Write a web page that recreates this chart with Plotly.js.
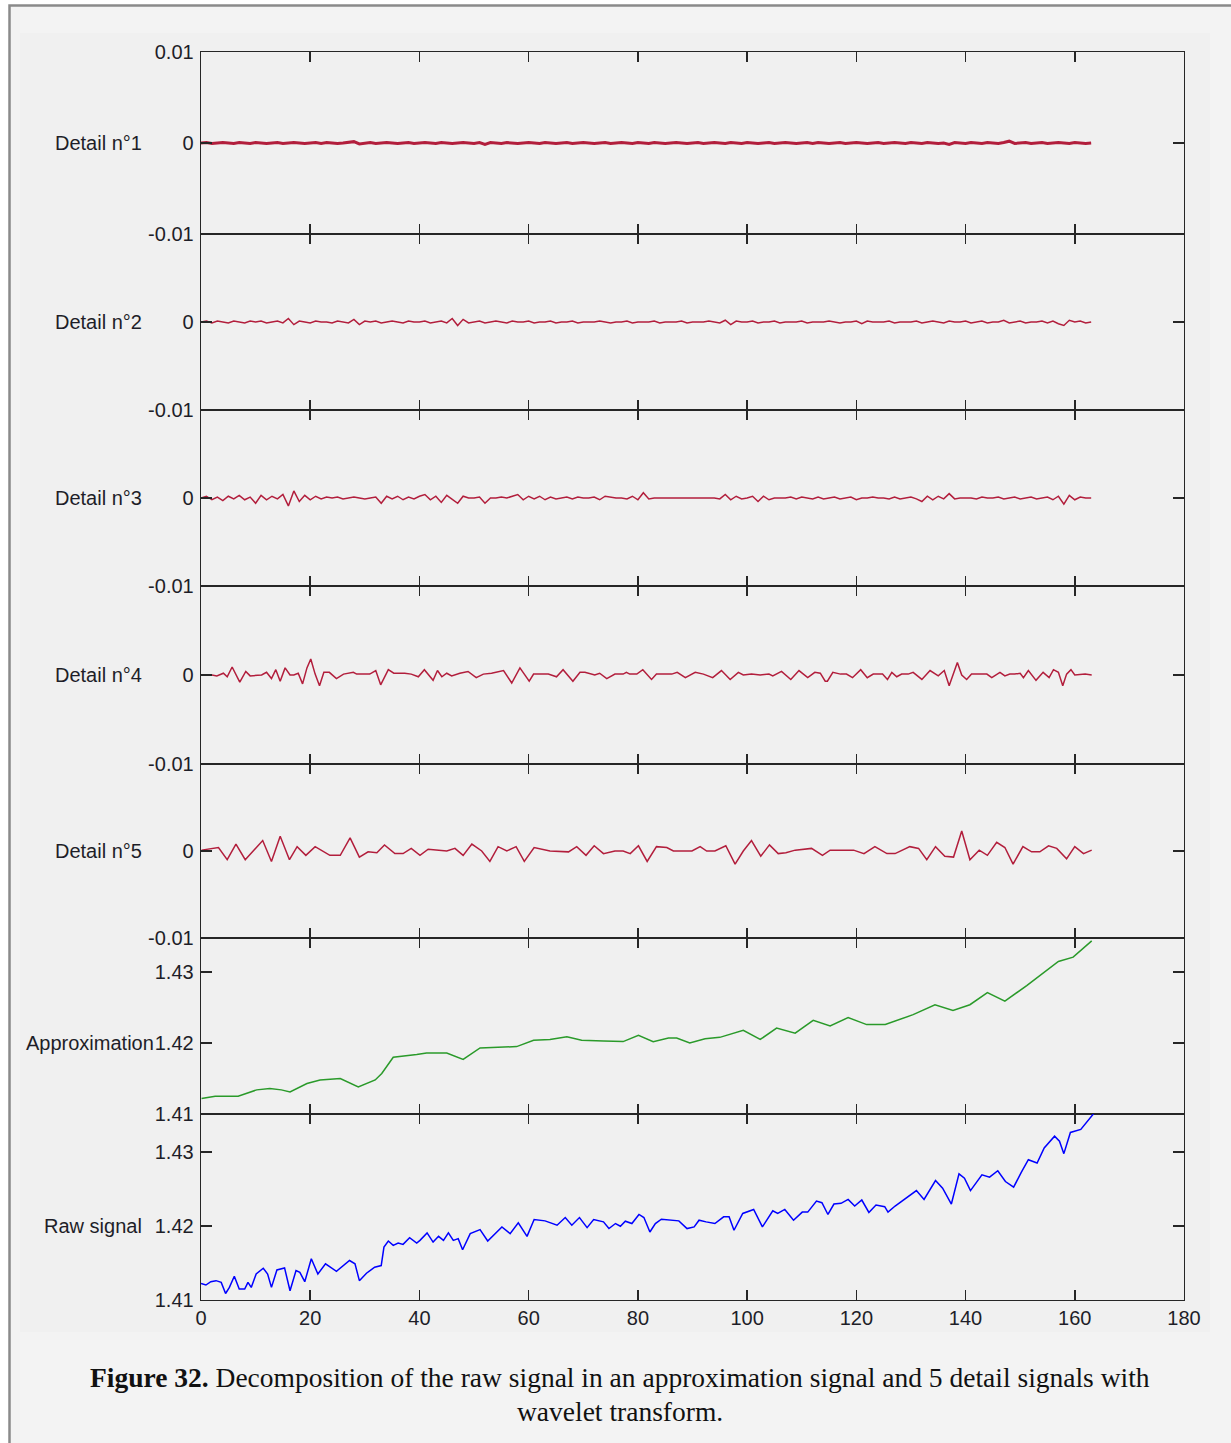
<!DOCTYPE html>
<html>
<head>
<meta charset="utf-8">
<script src="https://cdn.plot.ly/plotly-3.0.1.min.js"></script>
<style>
html,body{margin:0;padding:0;background:#ffffff;}
#chart{width:1231px;height:1443px;}
</style>
</head>
<body>
<div id="chart"></div>
<script>
// ---------- data ----------
var panelLabels = ["Detail n°1", "Detail n°2", "Detail n°3", "Detail n°4", "Detail n°5", "Approximation", "Raw signal"];
var xTickVals = [0, 20, 40, 60, 80, 100, 120, 140, 160, 180];
var detailTickVals = [-0.01, 0, 0.01];
var detailTickTextTop = ["-0.01", "0", "0.01"];
var detailTickText = ["-0.01", "0", ""];
var levelTickVals = [1.41, 1.42, 1.43];
var levelTickText = ["1.41", "1.42", "1.43"];
var captionBold = "Figure 32.";
var captionText = "Decomposition of the raw signal in an approximation signal and 5 detail signals with";
var captionText2 = "wavelet transform.";

var xFine = [0,1,2,3,4,5,6,7,8,9,10,11,12,13,14,15,16,17,18,19,20,21,22,23,24,25,26,27,28,29,30,31,32,33,34,35,36,37,38,39,40,41,42,43,44,45,46,47,48,49,50,51,52,53,54,55,56,57,58,59,60,61,62,63,64,65,66,67,68,69,70,71,72,73,74,75,76,77,78,79,80,81,82,83,84,85,86,87,88,89,90,91,92,93,94,95,96,97,98,99,100,101,102,103,104,105,106,107,108,109,110,111,112,113,114,115,116,117,118,119,120,121,122,123,124,125,126,127,128,129,130,131,132,133,134,135,136,137,138,139,140,141,142,143,144,145,146,147,148,149,150,151,152,153,154,155,156,157,158,159,160,161,162,163];

var detail1 = [0,0.00005,-0.00005,0,0.00005,0,-0.00005,0.00005,0,-0.00005,
0.00005,0,-0.00005,0,0.00005,-0.00005,0,0.00005,0,-0.00005,
0,0.00005,-0.00005,0.00005,0,-0.00005,0,0.00005,0.00015,-0.0001,
0,0.00005,-0.00005,0,0.00005,0,-0.00005,0,0.00005,-0.00005,
0,0.00005,0,-0.00005,0.00005,0,-0.00005,0,0.00005,0,
-0.00005,0.00005,-0.00015,0.00005,0,-0.00005,0.00005,0,-0.00005,0,
0.00005,0,-0.00005,0.00005,0,-0.00005,0,0.00005,-0.00005,0,
0.00005,0,-0.00005,0,0.00005,-0.00005,0,0.00005,0,-0.00005,
0.00005,0,-0.00005,0.00005,0,-0.00005,0,0.00005,0,-0.00005,
0,0.00005,-0.00005,0,0.00005,0,-0.00005,0.00005,0,-0.00005,
0.00005,0,-0.00005,0,0.00005,-0.00005,0,0.00005,0,-0.00005,
0,0.00005,-0.00005,0.00005,0,-0.00005,0,0.00005,-0.00005,0,
0.00005,0,-0.00005,0,0.00005,-0.00005,0,0.00005,0,-0.00005,
0.00005,0,-0.00005,0.00005,0,-0.00005,0,-0.00015,0.00005,0,
-0.00005,0.00005,0,-0.00005,0.00005,0,-0.00005,0.00005,0.0002,-0.00005,
0,0.00005,-0.00005,0,0.00005,-0.00005,0,0.00005,0,-0.00005,
0.00005,0,-0.00005,0];

var detail2 = [0,0.0001,-0.0001,0.0001,0,-0.0001,0.0001,0,-0.0001,0.0001,
0,0.0001,-0.0001,0,0.0001,-0.0001,0.0004,-0.0003,0.0001,0,
-0.0001,0.0001,0,0,-0.0001,0.0001,0,-0.0001,0.0003,-0.0003,
0.0001,0,0.0001,-0.0001,0,0.0001,0,-0.0001,0.0001,0,
0,0.0001,-0.0001,0,0.0001,-0.0001,0.0004,-0.0004,0.0003,-0.0001,
0,0.0001,-0.0001,0,0.0001,0,-0.0001,0.0001,0,0,
0.0001,-0.0001,0,0,0.0001,-0.0001,0,0,0.0001,-0.0001,
0,0,0,0.0001,0,-0.0001,0,0,0.0001,-0.0001,
0,0,0,0.0001,-0.0001,0,0,0,0.0001,-0.0001,
0,0,0,0.0001,0,-0.0001,0.0002,-0.0003,0.0001,0,
0,0.0001,-0.0001,0,0,0.0001,-0.0001,0,0,0,
0.0001,-0.0001,0,0,0,0.0001,0,-0.0001,0,0,
0.0001,-0.0002,0.0001,0,0,0,0.0001,-0.0001,0,0,
0,0.0001,-0.0001,0,0.0001,0,-0.0001,0.0001,0,0,
0.0001,-0.0001,0,0.0001,-0.0001,0,0,0.0002,-0.0001,0,
0.0001,-0.0001,0,0,0.0001,-0.0001,0.0001,-0.0002,-0.0004,0.0002,
0,0.0001,-0.0001,0];

var detail3 = [0,0.0002,-0.0002,0.0001,-0.0003,0.0002,-0.0001,0.0003,-0.0002,0.0001,
-0.0006,0.0003,-0.0002,0.0002,-0.0001,0.0004,-0.0009,0.0008,-0.0004,0.0003,
-0.0002,0.0002,-0.0001,0.0001,0,0.0001,-0.0001,0,0.0001,0,
-0.0001,0,0.0001,-0.0006,0.0002,-0.0001,0.0002,-0.0002,0.0001,-0.0001,
0.0002,0.0004,-0.0002,0.0002,-0.0005,0.0003,-0.0001,-0.0006,0.0002,0,
0,0.0001,-0.0006,0,0,0.0001,0,0.0002,0.0004,-0.0002,
0.0002,-0.0001,0.0002,-0.0002,0.0001,-0.0001,0,0.0001,-0.0001,0.0001,
0,0,0.0001,-0.0002,0.0002,0.0001,0,0,-0.0001,0.0002,
-0.0002,0.0006,-0.0001,0,0,0,0,0,0,0,
0,0,0,0,0,-0.0001,0.0004,-0.0002,0.0002,-0.0001,
0,0.0002,-0.0004,0.0002,-0.0002,0,0,0,0.0001,-0.0001,
0.0001,0,-0.0001,0.0001,-0.0001,0,0.0001,-0.0001,0,0.0001,
-0.0002,0,0,0.0001,0,0,-0.0001,0.0001,-0.0001,0,
0.0001,-0.0001,-0.0004,0.0002,-0.0002,0.0002,-0.0001,0.0005,-0.0001,0,
0,0,-0.0001,0.0001,0,0,0.0001,-0.0001,0,0.0001,
-0.0001,0,0.0001,-0.0001,0,0.0001,-0.0002,0.0002,-0.0007,0.0003,
-0.0002,0.0001,0,0];

var d4X = [0,2.0,2.9,4.1,4.8,5.7,7.1,8.2,9.0,11.1,12.0,12.9,13.7,14.5,15.4,16.3,17.0,17.8,18.6,19.4,20.1,20.9,21.7,22.5,23.5,24.8,26.1,27.9,28.5,30.9,32.0,32.9,34.3,35.3,37.3,38.5,39.8,40.9,42.5,43.3,44.1,45.0,45.9,47.4,48.9,50.4,51.7,53.2,55.4,56.9,58.4,60.1,60.9,63.6,65.1,66.3,68.1,69.4,70.3,72.1,73.0,74.3,75.8,77.3,77.9,78.5,79.8,80.9,82.5,83.4,86.2,87.2,88.7,90.5,92.0,93.7,95.3,96.9,98.4,99.3,100.8,102.4,104.0,104.7,106.3,108.0,109.5,111.1,112.4,113.4,114.3,114.7,115.7,117.1,118.2,119.3,120.8,122.0,123.1,124.8,125.7,126.5,127.4,128.3,129.5,130.4,132.0,133.5,135.0,136.1,137.0,137.9,138.5,139.3,140.2,141.1,142.7,143.9,144.8,146.3,147.2,148.1,149.0,150.0,150.6,151.5,152.9,154.2,155.3,156.1,157.0,157.8,158.5,159.3,160.0,161.9,163.1];
var d4Y = [0,0,-0.0001,0.0002,-0.0002,0.0009,-0.0008,0.0004,-0.0001,0,0.0003,-0.0004,0.0006,-0.0007,0.0008,0,0,0.0002,-0.001,0.0008,0.0018,0.0001,-0.0012,0.0003,0.0003,-0.0004,0.0001,0.0003,0.0001,0.0001,0.0005,-0.0011,0.0006,0.0002,0.0002,0.0001,-0.0002,0.0006,-0.0006,0.0005,-0.0002,0.0002,-0.0001,0.0002,0.0004,-0.0003,0.0001,0.0002,0.0005,-0.0009,0.0008,-0.0007,0.0001,0.0001,-0.0002,0.0006,-0.0007,0.0003,0.0003,0,0.0002,-0.0004,0.0001,0.0001,0.0003,0.0001,0.0001,0.0006,-0.0005,0.0001,0.0001,0.0003,-0.0003,0.0003,0.0001,-0.0003,0.0005,-0.0005,0.0003,0,0.0001,0,0.0001,-0.0001,0.0004,-0.0005,0.0005,-0.0003,0.0003,0.0002,-0.0007,-0.0007,0.0003,0.0001,0.0001,-0.0003,0.0006,-0.0003,0.0001,0.0001,-0.0005,0.0003,-0.0002,0.0001,0.0001,0.0003,-0.0005,0.0005,-0.0001,0.0005,-0.0012,0.0005,0.0014,0,-0.0005,0.0001,0.0001,0.0001,-0.0003,0.0003,-0.0001,0.0001,0.0001,0.0002,-0.0003,0.0005,-0.0006,0.0003,-0.0003,0.0006,0.0003,-0.0012,0.0001,0.0006,0,0.0001,0];

var d5X = [0.1,3.2,4.8,6.4,8.1,11.3,12.9,14.5,16.2,17.6,19.2,20.9,23.6,25.5,27.3,29.0,30.6,32.2,33.6,35.5,37.0,38.5,40.1,41.6,45.0,46.5,48.0,49.6,51.4,52.9,54.4,56.0,57.7,59.2,61.0,63.9,67.3,68.8,70.5,72.0,73.7,75.8,77.3,78.6,80.1,81.7,83.4,85.3,86.5,89.9,91.4,92.6,94.1,96.1,97.8,99.3,100.8,102.5,104.1,105.7,107.1,108.8,111.8,113.8,115.2,117.6,119.5,121.4,123.4,125.6,127.1,129.8,131.4,132.9,134.5,136.2,137.8,139.3,140.8,142.5,144.0,145.7,147.2,148.7,150.5,152.1,153.6,155.2,156.7,158.5,160.0,161.6,163.1];
var d5Y = [0.0001,0.0004,-0.001,0.0008,-0.001,0.0012,-0.0012,0.0017,-0.001,0.0005,-0.0005,0.0005,-0.0005,-0.0005,0.0015,-0.0007,-0.0001,-0.0002,0.0007,-0.0003,-0.0003,0.0003,-0.0005,0.0002,0,0.0003,-0.0005,0.0008,0,-0.0012,0.0005,0,0.0005,-0.0012,0.0004,0,-0.0001,0.0005,-0.0005,0.0006,-0.0003,0,0,-0.0003,0.0006,-0.0012,0.0005,0.0004,0,0,0.0005,0,0,0.0006,-0.0015,0,0.0012,-0.0006,0.0007,-0.0003,-0.0002,0.0001,0.0003,-0.0005,0.0001,0.0001,0.0001,-0.0003,0.0005,-0.0003,-0.0003,0.0005,0.0003,-0.001,0.0005,-0.0006,-0.0007,0.0023,-0.001,0.0001,-0.0005,0.001,0.0004,-0.0015,0.0005,-0.0001,-0.0001,0.0006,0.0003,-0.0009,0.0005,-0.0003,0.0001];

var approxX = [0.1,2.6,6.8,10.2,12.6,14.7,16.3,19.4,21.8,25.5,28.8,31.9,33.1,35.2,39.5,41.3,45.0,48.0,51.1,57.8,60.9,63.9,67.0,69.7,73.7,77.3,80.1,82.8,85.6,87.1,89.5,92.3,95.0,99.3,102.4,105.4,108.8,112.1,115.2,118.5,121.9,125.3,130.4,134.4,137.7,140.8,144.0,147.2,151.2,154.9,157.0,159.7,163.1];
var approxY = [1.4122,1.4125,1.4125,1.4134,1.4136,1.4134,1.4131,1.4143,1.4148,1.4150,1.4138,1.4148,1.4157,1.4180,1.4184,1.4186,1.4186,1.4177,1.4193,1.4195,1.4204,1.4205,1.4209,1.4204,1.4203,1.4202,1.4211,1.4202,1.4207,1.4207,1.4200,1.4206,1.4208,1.4218,1.4205,1.4221,1.4214,1.4232,1.4224,1.4236,1.4226,1.4226,1.4240,1.4254,1.4246,1.4254,1.4271,1.4259,1.4281,1.4302,1.4315,1.4321,1.4344];

var rawX = [0,0.9,1.8,2.75,3.7,4.5,5.2,6.1,7.0,8.0,8.6,9.2,10.1,11.4,12.2,12.9,13.9,15.3,16.3,17.4,18.1,19.0,20.2,21.4,22.8,24.8,27.2,28.2,29.0,30.3,31.8,33.0,33.5,34.3,35.2,36.1,37.0,38.2,39.5,40.1,41.4,42.5,43.5,44.4,45.3,46.2,47.1,47.9,49.3,51.1,52.5,53.5,55.1,56.6,58.1,59.7,61.0,63.0,65.2,66.7,67.9,69.3,70.7,71.9,73.7,74.7,75.9,76.8,77.7,78.9,80.2,81.1,82.2,83.2,84.3,87.5,89.0,90.3,91.2,92.5,94.1,95.7,96.7,97.6,99.2,101.2,102.8,104.7,105.6,106.9,108.5,110.1,111.1,112.7,113.7,114.8,115.9,117.2,118.5,119.7,121.0,122.3,123.6,125.2,125.8,127.1,128.7,131.0,132.4,133.5,134.5,135.8,137.4,138.8,139.8,140.9,143.0,144.4,145.9,147.3,148.8,150.2,151.5,153.1,154.4,156.3,157.2,158.0,159.2,161.1,163.5];
var rawY = [1.41224,1.41202,1.41247,1.41261,1.41238,1.41088,1.4117,1.4132,1.41147,1.41147,1.41238,1.4117,1.41351,1.41429,1.41351,1.4117,1.41406,1.41433,1.41125,1.41397,1.41374,1.41247,1.41556,1.41351,1.41488,1.41388,1.41533,1.41488,1.41261,1.41361,1.41442,1.41465,1.41714,1.41796,1.41737,1.41769,1.41751,1.41841,1.41769,1.41805,1.41905,1.41782,1.41859,1.41805,1.41905,1.41805,1.41828,1.41678,1.41896,1.4195,1.41796,1.41873,1.41986,1.41896,1.42041,1.41859,1.42086,1.42068,1.42009,1.42113,1.42009,1.42113,1.41977,1.42086,1.42054,1.41964,1.42032,1.41995,1.42063,1.42032,1.42154,1.42113,1.41918,1.42032,1.42091,1.42068,1.41964,1.41986,1.42077,1.42054,1.42032,1.42122,1.42122,1.41941,1.42168,1.42222,1.41986,1.42204,1.42168,1.42222,1.42077,1.42186,1.42186,1.42336,1.42313,1.42154,1.42295,1.42304,1.42358,1.42268,1.42349,1.42181,1.42281,1.42259,1.42186,1.42268,1.42358,1.42476,1.42358,1.42485,1.42612,1.42508,1.42295,1.42703,1.42644,1.42476,1.42689,1.42658,1.42744,1.42599,1.42522,1.42721,1.42893,1.42848,1.43052,1.43211,1.43143,1.42975,1.43261,1.43302,1.43519];

// ---------- layout helpers ----------
var W = 1231, H = 1443;
var L = 201, R = 1184, T = 52, B = 1300;
var bounds = [52, 234, 410, 586, 764, 938, 1114, 1300];
function fy(py){ return (B - py) / (B - T); }
function fx(px){ return (px - L) / (R - L); }

var detailColor = '#b21e3c';
var axisColor = '#262626';
var tickFont = {family: 'Liberation Sans, Arial, sans-serif', size: 20, color: '#1e1e28'};

var seriesX = [xFine, xFine, xFine, d4X, d5X, approxX, rawX];
var seriesY = [detail1, detail2, detail3, d4Y, d5Y, approxY, rawY];
var colors = [detailColor, detailColor, detailColor, detailColor, detailColor, '#2a9a2a', '#0000ff'];
var widths = [3, 1.5, 1.5, 1.5, 1.5, 1.5, 1.5];
var yRanges = [[-0.01,0.01],[-0.01,0.01],[-0.01,0.01],[-0.01,0.01],[-0.01,0.01],[1.41,1.4348],[1.41,1.4351]];

var traces = [];
var layout = {
  width: W, height: H,
  margin: {l: L, r: W - R, t: T, b: H - B, pad: 0},
  paper_bgcolor: '#ffffff',
  plot_bgcolor: 'rgba(0,0,0,0)',
  showlegend: false,
  shapes: [
    {type:'rect', xref:'paper', yref:'paper', layer:'below',
     x0: fx(9.5), x1: fx(1245), y0: fy(5.5), y1: fy(1460),
     fillcolor:'#f3f3f3', line:{color:'#8a8a8a', width:2.5}},
    {type:'rect', xref:'paper', yref:'paper', layer:'below',
     x0: fx(20), x1: fx(1210), y0: fy(33), y1: fy(1332),
     fillcolor:'#f0f0f0', line:{width:0}}
  ],
  annotations: []
};

for (var i = 0; i < 7; i++) {
  var n = i === 0 ? '' : String(i + 1);
  traces.push({
    type: 'scatter', mode: 'lines',
    x: seriesX[i], y: seriesY[i],
    xaxis: 'x' + n, yaxis: 'y' + n,
    line: {color: colors[i], width: widths[i]},
    hoverinfo: 'skip'
  });
  var isLevel = i >= 5;
  layout['xaxis' + n] = {
    domain: [0, 1],
    anchor: 'y' + n,
    range: [0, 180],
    tickmode: 'array', tickvals: xTickVals,
    ticks: 'inside', ticklen: 10, tickwidth: 1.5, tickcolor: axisColor,
    showline: true, linecolor: axisColor, linewidth: 1.3, mirror: 'ticks',
    showgrid: false, zeroline: false,
    showticklabels: i === 6,
    tickfont: tickFont,
    fixedrange: true
  };
  if (i > 0) layout['xaxis' + n].matches = 'x';
  layout['yaxis' + n] = {
    domain: [fy(bounds[i + 1]), fy(bounds[i])],
    anchor: 'x' + n,
    range: yRanges[i],
    tickmode: 'array',
    tickvals: isLevel ? levelTickVals : detailTickVals,
    ticktext: isLevel ? levelTickText : (i === 0 ? detailTickTextTop : detailTickText),
    ticks: 'inside', ticklen: 11, tickwidth: 1.5, tickcolor: axisColor,
    showline: true, linecolor: axisColor, linewidth: 1.3, mirror: 'ticks',
    showgrid: false, zeroline: false,
    tickfont: tickFont,
    ticklabelstandoff: 2,
    fixedrange: true
  };
  layout.annotations.push({
    xref: 'paper', yref: 'y' + n,
    x: fx(i === 5 ? 156 : 144), y: isLevel ? 1.42 : 0,
    xanchor: 'right', yanchor: 'middle',
    text: panelLabels[i], showarrow: false,
    font: {family: 'Liberation Sans, Arial, sans-serif', size: 20, color: '#1e1e28'}
  });
}

layout.annotations.push({
  xref: 'paper', yref: 'paper',
  x: fx(620), y: fy(1377), xanchor: 'center', yanchor: 'middle',
  text: '<b>' + captionBold + '</b> ' + captionText, showarrow: false,
  font: {family: 'Liberation Serif, Times New Roman, serif', size: 27.5, color: '#111111'}
});
layout.annotations.push({
  xref: 'paper', yref: 'paper',
  x: fx(620), y: fy(1412), xanchor: 'center', yanchor: 'middle',
  text: captionText2, showarrow: false,
  font: {family: 'Liberation Serif, Times New Roman, serif', size: 27.5, color: '#111111'}
});

Plotly.newPlot('chart', traces, layout, {displayModeBar: false, staticPlot: true});
</script>
</body>
</html>
